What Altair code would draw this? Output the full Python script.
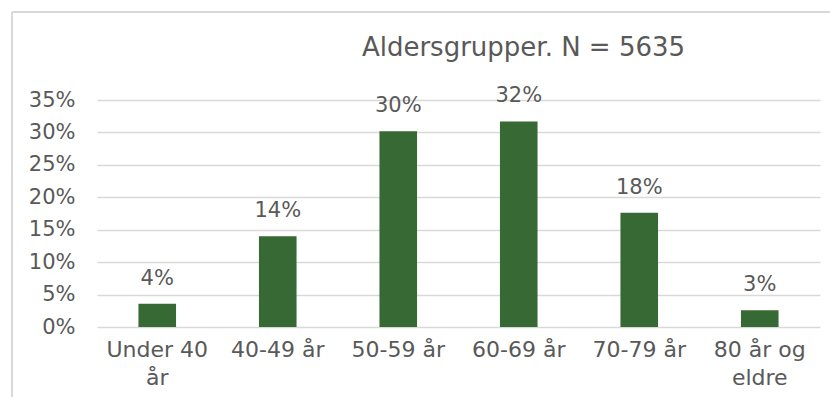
import altair as alt
import pandas as pd

categories = ["Under 40\når", "40-49 år", "50-59 år", "60-69 år", "70-79 år", "80 år og\neldre"]
shares = [3.6, 14.0, 30.2, 31.7, 17.6, 2.6]
y_ticks = [0, 5, 10, 15, 20, 25, 30, 35]

df = pd.DataFrame({"gruppe": categories, "andel": shares})
df["etikett"] = df["andel"].round(0).astype(int).astype(str) + "%"

FONT = "DejaVu Sans"
GREY = "#595959"
GREEN = "#366933"

x = alt.X(
    "gruppe:N",
    sort=categories,
    title=None,
    scale=alt.Scale(paddingInner=0.688, paddingOuter=0.344),
    axis=alt.Axis(
        labelExpr="split(datum.value, '\\n')",
        labelAngle=0,
        labelFont=FONT,
        labelFontSize=22,
        labelColor=GREY,
        labelPadding=12,
        labelLineHeight=28,
        ticks=False,
        domain=False,
        grid=False,
    ),
)
y = alt.Y(
    "andel:Q",
    title=None,
    scale=alt.Scale(domain=[0, 35], nice=False),
    axis=alt.Axis(
        values=y_ticks,
        labelExpr="datum.value + '%'",
        labelFont=FONT,
        labelFontSize=21,
        labelColor=GREY,
        labelPadding=22,
        labelOverlap=False,
        ticks=False,
        domain=False,
        grid=True,
        gridColor="#d9d9d9",
        gridWidth=1.3,
    ),
)

bars = alt.Chart(df).mark_bar(color=GREEN).encode(x=x, y=y)
labels = alt.Chart(df).mark_text(
    font=FONT, fontSize=21, color=GREY, baseline="bottom", dy=-15
).encode(x=x, y=y, text="etikett:N")

frame_top = alt.Chart(df).mark_rule(color="#d9d9d9", strokeWidth=1.5, clip=False).encode(
    x=alt.value(-85), x2=alt.value(760), y=alt.value(-88)
)
frame_left = alt.Chart(df).mark_rule(color="#d9d9d9", strokeWidth=1.5, clip=False).encode(
    x=alt.value(-85), y=alt.value(-88), y2=alt.value(320)
)

chart = (
    alt.layer(bars, labels, frame_top, frame_left)
    .properties(
        width=723,
        height=227,
        padding={"left": 89, "top": 92, "right": 10, "bottom": 70},
        autosize=alt.AutoSizeParams(type="none"),
        title=alt.Title(
            "Aldersgrupper. N = 5635",
            font=FONT,
            fontSize=26,
            fontWeight="normal",
            color=GREY,
            anchor="middle",
            dx=65,
            offset=-76,
            baseline="bottom",
        ),
    )
    .configure_view(stroke=None)
)

chart.save("out.html", embed_options={"renderer": "svg", "actions": False})
